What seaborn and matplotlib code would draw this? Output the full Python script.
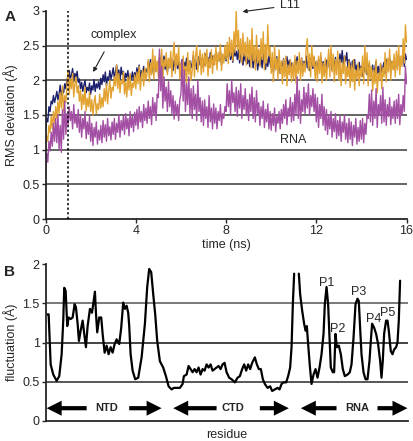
import numpy as np
import pandas as pd
import matplotlib
matplotlib.use("Agg")
import matplotlib.pyplot as plt
import seaborn as sns

# ---------------- data ----------------
time_ns = [round(i * 0.05, 2) for i in range(321)]

complex_rmsd = [
    1.28, 1.45, 1.40, 1.62, 1.55, 1.70, 1.66, 1.78, 1.68, 1.75,
    1.84, 1.72, 1.80, 1.93, 1.78, 1.86, 1.82, 1.95, 1.88, 2.02,
    1.96, 2.14, 2.02, 2.08, 2.17, 1.98, 2.10, 2.04, 2.13, 1.97,
    2.02, 1.88, 1.97, 1.84, 1.93, 2.00, 1.82, 1.90, 1.85, 1.96,
    1.80, 1.92, 1.86, 2.01, 1.84, 1.95, 1.89, 1.98, 1.87, 2.03,
    1.94, 2.08, 1.98, 2.12, 1.92, 2.05, 2.00, 2.14, 2.02, 2.09,
    2.18, 2.03, 2.12, 2.22, 2.06, 2.15, 2.00, 2.19, 2.08, 2.13,
    1.98, 2.10, 2.04, 2.14, 1.96, 2.07, 2.02, 2.12, 2.00, 2.11,
    2.05, 2.18, 2.08, 2.22, 2.03, 2.14, 2.10, 2.20, 2.06, 2.16,
    2.12, 2.26, 2.15, 2.30, 2.10, 2.22, 2.18, 2.28, 2.13, 2.25,
    2.20, 2.33, 2.14, 2.28, 2.22, 2.35, 2.16, 2.26, 2.12, 2.30,
    2.18, 2.32, 2.24, 2.14, 2.29, 2.20, 2.35, 2.17, 2.27, 2.12,
    2.22, 2.30, 2.15, 2.26, 2.19, 2.32, 2.14, 2.24, 2.28, 2.18,
    2.25, 2.36, 2.20, 2.30, 2.16, 2.28, 2.34, 2.22, 2.31, 2.19,
    2.30, 2.22, 2.38, 2.25, 2.33, 2.19, 2.40, 2.27, 2.35, 2.23,
    2.32, 2.41, 2.24, 2.36, 2.28, 2.42, 2.22, 2.35, 2.30, 2.38,
    2.28, 2.44, 2.33, 2.47, 2.30, 2.40, 2.26, 2.45, 2.35, 2.42,
    2.30, 2.44, 2.25, 2.38, 2.32, 2.22, 2.40, 2.28, 2.36, 2.24,
    2.35, 2.20, 2.32, 2.40, 2.18, 2.30, 2.26, 2.37, 2.15, 2.28,
    2.22, 2.34, 2.18, 2.38, 2.24, 2.16, 2.31, 2.20, 2.36, 2.25,
    2.18, 2.30, 2.12, 2.26, 2.22, 2.34, 2.15, 2.28, 2.10, 2.24,
    2.20, 2.31, 2.14, 2.27, 2.34, 2.18, 2.29, 2.13, 2.25, 2.20,
    2.16, 2.30, 2.22, 2.34, 2.14, 2.26, 2.20, 2.32, 2.12, 2.27,
    2.22, 2.35, 2.18, 2.28, 2.14, 2.31, 2.24, 2.17, 2.33, 2.20,
    2.26, 2.14, 2.30, 2.20, 2.34, 2.16, 2.27, 2.22, 2.12, 2.29,
    2.18, 2.32, 2.24, 2.36, 2.15, 2.28, 2.20, 2.33, 2.17, 2.26,
    2.22, 2.38, 2.26, 2.43, 2.20, 2.35, 2.28, 2.40, 2.18, 2.30,
    2.24, 2.12, 2.28, 2.16, 2.30, 2.10, 2.22, 2.08, 2.26, 2.14,
    2.20, 2.06, 2.25, 2.12, 2.28, 2.08, 2.18, 2.24, 2.05, 2.15,
    2.22, 2.04, 2.18, 2.27, 2.10, 2.20, 2.06, 2.24, 2.12, 2.19,
    2.26, 2.10, 2.30, 2.16, 2.22, 2.33, 2.12, 2.27, 2.18, 2.30,
    2.15, 2.28, 2.22, 2.35, 2.18, 2.31, 2.25, 2.45, 2.20, 2.38,
    2.30,
]

l11_rmsd = [
    1.02, 1.20, 1.12, 1.35, 1.25, 1.48, 1.30, 1.55, 1.38, 1.62,
    1.45, 1.70, 1.52, 1.82, 1.60, 1.92, 1.55, 1.78, 1.68, 1.95,
    2.15, 1.80, 2.02, 1.88, 2.10, 1.76, 1.95, 2.05, 1.82, 1.92,
    1.70, 1.86, 1.58, 1.80, 1.65, 1.90, 1.56, 1.74, 1.62, 1.83,
    1.55, 1.72, 1.50, 1.68, 1.78, 1.52, 1.66, 1.58, 1.80, 1.60,
    1.75, 1.62, 1.88, 1.70, 1.95, 1.66, 1.85, 2.00, 1.74, 1.90,
    1.85, 2.05, 1.92, 2.22, 1.88, 2.10, 1.82, 2.00, 1.95, 2.12,
    1.80, 1.98, 1.76, 2.05, 1.86, 2.10, 1.78, 1.96, 1.90, 2.08,
    1.88, 2.12, 1.95, 2.20, 1.86, 2.05, 2.15, 1.92, 2.18, 2.00,
    2.10, 2.30, 1.98, 2.25, 2.08, 2.45, 2.02, 2.35, 2.12, 2.28,
    2.05, 2.38, 2.15, 2.45, 2.02, 2.30, 2.20, 2.40, 2.08, 2.32,
    2.18, 2.42, 2.05, 2.35, 2.55, 2.10, 2.38, 2.22, 2.48, 2.02,
    2.25, 1.92, 2.35, 2.05, 2.20, 1.96, 2.40, 2.08, 2.28, 2.00,
    2.15, 2.42, 2.05, 2.35, 2.50, 2.12, 2.30, 2.44, 2.08, 2.38,
    2.12, 2.40, 2.20, 2.45, 2.06, 2.32, 2.18, 2.44, 2.10, 2.36,
    2.22, 2.48, 2.15, 2.40, 2.28, 2.52, 2.14, 2.38, 2.25, 2.50,
    2.30, 2.55, 2.24, 2.62, 2.35, 2.58, 2.28, 2.70, 2.40, 3.00,
    2.45, 2.72, 2.30, 2.60, 2.25, 2.68, 2.35, 2.55, 2.22, 2.62,
    2.30, 2.58, 2.18, 2.75, 2.28, 2.50, 2.15, 2.65, 2.25, 2.45,
    2.20, 2.60, 2.30, 2.70, 2.15, 2.52, 2.25, 2.80, 2.35, 2.48,
    2.10, 2.40, 1.98, 2.50, 2.15, 2.32, 2.02, 2.44, 2.10, 2.28,
    1.95, 2.30, 2.05, 2.35, 1.92, 2.22, 2.08, 2.30, 1.98, 2.25,
    2.02, 2.36, 1.96, 2.28, 2.10, 2.40, 2.00, 2.32, 2.06, 2.25,
    2.12, 2.45, 2.60, 2.15, 2.38, 2.05, 2.50, 2.20, 2.35, 2.02,
    2.28, 1.98, 2.35, 2.10, 2.40, 1.96, 2.25, 2.05, 2.32, 2.00,
    2.22, 2.45, 2.05, 2.50, 2.12, 2.38, 1.98, 2.30, 2.08, 2.42,
    2.00, 2.30, 1.92, 2.25, 2.10, 2.35, 1.95, 2.20, 2.05, 2.28,
    1.90, 2.22, 1.98, 2.30, 1.86, 2.15, 2.02, 2.25, 1.92, 2.18,
    2.05, 2.35, 1.95, 2.50, 2.10, 2.40, 1.92, 2.28, 2.02, 2.20,
    1.85, 2.15, 1.95, 2.30, 1.82, 2.10, 2.00, 2.25, 1.88, 2.18,
    2.05, 2.40, 1.98, 2.32, 2.12, 2.45, 2.00, 2.28, 2.15, 2.38,
    2.05, 2.42, 2.15, 2.50, 2.08, 2.35, 2.20, 2.60, 2.25, 2.80,
    2.55,
]

rna_rmsd = [
    0.60, 0.95, 0.82, 1.12, 0.98, 1.25, 1.05, 1.38, 1.12, 1.45,
    1.10, 1.50, 1.00, 1.35, 0.96, 1.58, 1.15, 1.70, 1.22, 1.52,
    1.35, 1.62, 1.42, 1.55, 1.30, 1.65, 1.38, 1.50, 1.32, 1.58,
    1.25, 1.50, 1.18, 1.45, 1.30, 1.55, 1.16, 1.40, 1.22, 1.48,
    1.12, 1.38, 1.06, 1.32, 1.18, 1.40, 1.08, 1.28, 1.14, 1.35,
    1.10, 1.42, 1.18, 1.36, 1.12, 1.45, 1.20, 1.33, 1.14, 1.40,
    1.22, 1.45, 1.15, 1.38, 1.25, 1.50, 1.18, 1.42, 1.28, 1.48,
    1.22, 1.52, 1.30, 1.45, 1.20, 1.55, 1.32, 1.48, 1.26, 1.54,
    1.35, 1.58, 1.30, 1.62, 1.40, 1.55, 1.32, 1.65, 1.42, 1.60,
    1.38, 1.70, 1.45, 1.62, 1.36, 1.75, 1.50, 1.68, 1.42, 1.80,
    1.75, 2.45, 1.85, 2.20, 1.60, 2.05, 1.70, 1.90, 1.55, 1.98,
    1.62, 1.85, 1.52, 1.78, 1.44, 1.70, 1.50, 1.65, 1.42, 1.72,
    1.80, 2.30, 1.70, 2.15, 1.55, 1.95, 1.65, 2.05, 1.52, 1.88,
    1.45, 1.92, 1.58, 1.80, 1.42, 2.00, 1.55, 1.75, 1.40, 1.70,
    1.35, 1.72, 1.45, 1.62, 1.32, 1.78, 1.40, 1.60, 1.30, 1.66,
    1.38, 1.60, 1.30, 1.55, 1.42, 1.65, 1.35, 1.52, 1.45, 1.62,
    1.55, 1.95, 1.62, 1.85, 1.50, 2.00, 1.68, 1.82, 1.55, 1.90,
    1.48, 1.85, 1.60, 1.95, 1.45, 1.78, 1.58, 1.88, 1.50, 1.72,
    1.42, 1.80, 1.55, 1.90, 1.45, 1.75, 1.40, 1.85, 1.52, 1.68,
    1.35, 1.62, 1.45, 1.70, 1.32, 1.58, 1.40, 1.66, 1.30, 1.55,
    1.28, 1.52, 1.35, 1.60, 1.26, 1.48, 1.38, 1.55, 1.30, 1.58,
    1.38, 1.65, 1.45, 1.72, 1.36, 1.60, 1.48, 1.75, 1.40, 1.68,
    1.42, 1.80, 1.50, 2.05, 1.45, 1.85, 1.38, 1.72, 1.55, 1.90,
    1.52, 1.82, 1.60, 1.95, 1.50, 1.78, 1.62, 1.88, 1.55, 1.80,
    1.40, 1.75, 1.32, 1.65, 1.45, 1.80, 1.35, 1.62, 1.28, 1.58,
    1.22, 1.50, 1.30, 1.55, 1.18, 1.45, 1.26, 1.52, 1.16, 1.42,
    1.20, 1.48, 1.12, 1.40, 1.25, 1.50, 1.15, 1.38, 1.10, 1.45,
    1.15, 1.40, 1.06, 1.35, 1.18, 1.45, 1.08, 1.32, 1.12, 1.42,
    1.15, 1.45, 1.10, 1.38, 1.22, 1.50, 1.45, 1.80, 1.40, 1.86,
    1.35, 1.70, 1.45, 1.88, 1.32, 1.65, 1.50, 1.78, 1.38, 1.90,
    1.40, 1.72, 1.35, 1.65, 1.48, 1.75, 1.36, 1.62, 1.45, 1.70,
    1.38, 1.72, 1.45, 1.80, 1.36, 1.65, 1.50, 1.78, 1.55, 2.20,
    1.95,
]

series_names = ["complex", "L11", "RNA"]
series_colors = ["#1c1f6b", "#e3a332", "#a34fa3"]

# panel B: residue position (index along the axis) and fluctuation
residue_seg1 = [
    1.3, 2.7, 4.7, 7.3, 10.7, 13.3, 15.7, 17.3, 18.3, 19.7, 21.3, 22.7, 24.7, 26.7,
    28.7, 30.0, 31.7, 33.0, 34.7, 36.7, 38.3, 40.0, 41.7, 44.0, 46.0, 47.3, 49.0,
    50.0, 51.3, 53.3, 55.3, 56.7, 58.7, 60.7, 62.7, 64.7, 66.7, 68.7, 70.7, 73.3,
    75.3, 77.3, 79.0, 80.7, 82.3, 83.3, 84.7, 86.7, 89.3, 92.3, 95.7, 99.0, 101.3,
    103.3, 105.3, 107.3, 109.3, 111.3, 114.0, 117.3, 120.0, 122.7, 125.7, 128.0,
    130.7, 134.0, 136.7, 138.0, 140.7, 142.7, 144.7, 146.7, 148.7, 150.7, 152.7,
    154.7, 156.7, 158.7, 160.7, 162.7, 164.7, 166.7, 168.7, 170.7, 172.7, 174.7,
    176.7, 178.7, 180.7, 183.3, 185.7, 189.0, 191.7, 194.0, 196.3, 198.3, 200.3,
    202.3, 204.3, 206.3, 209.0, 211.0, 213.0, 215.0, 217.0, 219.0, 221.7, 224.3,
    226.3, 229.0, 231.7, 233.7, 235.7, 237.7, 240.3, 242.3, 244.3, 245.7, 247.0,
    248.3,
]
fluct_seg1 = [
    1.36, 1.36, 0.72, 0.59, 0.51, 0.57, 0.85, 1.28, 1.70, 1.66, 1.21, 1.32, 1.30,
    1.32, 1.49, 1.45, 1.24, 1.02, 1.15, 1.28, 1.11, 0.94, 1.21, 1.43, 1.38, 1.49,
    1.65, 1.38, 1.13, 1.32, 1.32, 1.11, 0.87, 0.96, 0.85, 0.94, 0.87, 0.98, 1.04,
    0.98, 1.19, 1.51, 1.43, 1.47, 1.38, 1.21, 0.85, 0.64, 0.53, 0.55, 0.81, 1.24,
    1.71, 1.94, 1.90, 1.62, 1.36, 1.02, 0.76, 0.68, 0.57, 0.44, 0.40, 0.42, 0.42,
    0.42, 0.47, 0.57, 0.59, 0.70, 0.66, 0.62, 0.66, 0.62, 0.68, 0.59, 0.66, 0.64,
    0.72, 0.68, 0.72, 0.64, 0.66, 0.68, 0.70, 0.66, 0.72, 0.74, 0.62, 0.55, 0.53,
    0.49, 0.55, 0.57, 0.66, 0.72, 0.64, 0.72, 0.66, 0.74, 0.81, 0.72, 0.66, 0.66,
    0.53, 0.47, 0.42, 0.44, 0.38, 0.40, 0.42, 0.40, 0.47, 0.49, 0.49, 0.57, 0.68,
    0.94, 1.49, 1.88,
]
residue_seg2 = [
    253.0, 254.3, 256.3, 258.3, 259.7, 261.0, 262.3, 264.0, 265.7, 267.7, 269.7,
    271.7, 273.7, 275.7, 277.7, 279.0, 280.7, 282.3, 283.7, 285.0, 287.0, 288.3,
    289.7, 291.0, 293.0, 295.0, 297.0, 299.0, 301.7, 304.0, 305.7, 307.7, 309.7,
    311.7, 313.0, 314.3, 315.7, 317.7, 319.7, 321.7, 323.7, 325.0, 326.3, 328.3,
    330.3, 332.3, 334.3, 335.7, 337.0, 338.3, 340.3, 341.7, 343.0, 345.0, 346.7,
    348.3, 350.3, 351.7, 353.0, 354.3,
]
fluct_seg2 = [
    1.88, 1.62, 1.41, 1.24, 1.15, 1.21, 0.98, 0.70, 0.47, 0.59, 0.66, 0.55, 0.68,
    0.85, 1.11, 1.49, 1.71, 1.49, 1.06, 0.68, 0.62, 0.62, 1.11, 0.94, 0.96, 0.85,
    0.66, 0.57, 0.59, 0.62, 0.72, 1.06, 1.49, 1.56, 1.53, 1.19, 0.85, 0.62, 0.53,
    0.53, 0.77, 1.02, 1.24, 1.19, 1.11, 0.98, 0.77, 0.55, 0.77, 1.11, 1.28, 1.28,
    1.15, 0.89, 0.85, 0.91, 0.94, 1.00, 1.28, 1.79,
]

peak_labels = ["P1", "P2", "P3", "P4", "P5"]
peak_residue = [280.7, 292.3, 313.3, 328.0, 342.3]
peak_value = [1.76, 1.17, 1.65, 1.30, 1.38]

domain_names = ["NTD", "CTD", "RNA"]
domain_left = [0.7, 127.3, 255.0]
domain_left_end = [40.7, 170.7, 290.7]
domain_center = [60.7, 187.3, 311.3]
domain_right_start = [83.3, 214.0, 331.7]
domain_right = [115.7, 243.0, 361.7]

# ---------------- style ----------------
sns.set_theme(style="ticks")
plt.rcParams["font.family"] = ["Liberation Sans", "DejaVu Sans"]
plt.rcParams["axes.linewidth"] = 1.3

FS = 9

fig = plt.figure(figsize=(4.14, 4.41), dpi=100)
axA = fig.add_axes([0.110, 0.5034, 0.872, 0.4717])
axB = fig.add_axes([0.111, 0.046, 0.874, 0.3547])

grid_color = "#3a3a3a"

# ---------------- panel A ----------------
dfA = pd.DataFrame({
    "time": time_ns * 3,
    "rmsd": complex_rmsd + l11_rmsd + rna_rmsd,
    "series": [series_names[0]] * len(time_ns)
              + [series_names[1]] * len(time_ns)
              + [series_names[2]] * len(time_ns),
})
for y in [0.5, 1.0, 1.5, 2.0, 2.5]:
    axA.axhline(y, color=grid_color, lw=1.1, zorder=0)
sns.lineplot(data=dfA, x="time", y="rmsd", hue="series",
             palette=dict(zip(series_names, series_colors)),
             hue_order=series_names, estimator=None, sort=False,
             lw=1.0, legend=False, ax=axA, zorder=2)
axA.axvline(1.0, color="black", lw=1.1, ls=(0, (1.5, 1.5)), zorder=3)
axA.set_xlim(0, 16)
axA.set_ylim(0, 3)
axA.set_xticks([0, 4, 8, 12, 16])
axA.set_yticks([0, 0.5, 1, 1.5, 2, 2.5, 3])
axA.set_yticklabels(["0", "0.5", "1", "1.5", "2", "2.5", "3"])
axA.set_xlabel("time (ns)", fontsize=FS, labelpad=1)
axA.set_ylabel("RMS deviation (Å)", fontsize=FS, labelpad=3)
axA.tick_params(labelsize=FS, length=3, width=1, pad=1.5)
sns.despine(ax=axA)

axA.annotate("complex", xy=(2.11, 2.12), xytext=(3.0, 2.65),
             ha="center", va="center", fontsize=FS,
             arrowprops=dict(arrowstyle="-|>", color="#222", lw=0.8,
                             shrinkA=6, shrinkB=0, mutation_scale=6))
axA.annotate("L11", xy=(8.73, 2.99), xytext=(10.83, 3.08),
             ha="center", va="center", fontsize=FS, annotation_clip=False,
             arrowprops=dict(arrowstyle="-|>", color="#222", lw=0.8,
                             shrinkA=2, shrinkB=0, mutation_scale=6))
axA.text(10.97, 1.14, "RNA", ha="center", va="center", fontsize=FS)
fig.text(0.024, 0.962, "A", fontsize=11, fontweight="bold", ha="center", va="center")

# ---------------- panel B ----------------
dfB = pd.DataFrame({
    "residue": residue_seg1 + residue_seg2,
    "fluct": fluct_seg1 + fluct_seg2,
    "seg": [0] * len(residue_seg1) + [1] * len(residue_seg2),
})
for y, c in [(0.5, "#2a2a2a"), (1.0, "#111111"), (1.5, "#555555")]:
    axB.axhline(y, color=c, lw=1.1, zorder=0)
sns.lineplot(data=dfB, x="residue", y="fluct", units="seg", estimator=None,
             sort=False, color="black", lw=1.6, ax=axB, zorder=2)
axB.set_xlim(0, 362)
axB.set_ylim(0, 2)
axB.set_xticks([])
axB.set_yticks([0, 0.5, 1, 1.5, 2])
axB.set_yticklabels(["0", "0.5", "1", "1.5", "2"])
axB.set_xlabel("residue", fontsize=FS, labelpad=6)
axB.set_ylabel("fluctuation (Å)", fontsize=FS, labelpad=3)
axB.tick_params(labelsize=FS, length=3, width=1, pad=1.5)
sns.despine(ax=axB)

for lab, xr, yv in zip(peak_labels, peak_residue, peak_value):
    axB.text(xr, yv, lab, ha="center", va="center", fontsize=FS)

arrow_y = 0.16
astyle = "simple,head_length=1.0,head_width=1.0,tail_width=0.28"
for name, l0, l1, cx, r0, r1 in zip(domain_names, domain_left, domain_left_end,
                                     domain_center, domain_right_start, domain_right):
    axB.annotate("", xy=(l0, arrow_y), xytext=(l1, arrow_y),
                 arrowprops=dict(arrowstyle=astyle, color="black", lw=0,
                                 shrinkA=0, shrinkB=0, mutation_scale=10.8))
    axB.annotate("", xy=(r1, arrow_y), xytext=(r0, arrow_y),
                 arrowprops=dict(arrowstyle=astyle, color="black", lw=0,
                                 shrinkA=0, shrinkB=0, mutation_scale=10.8))
    axB.text(cx, arrow_y, name, ha="center", va="center", fontsize=8,
             fontweight="bold")
fig.text(0.024, 0.384, "B", fontsize=11, fontweight="bold", ha="center", va="center")

fig.savefig("out.png", dpi=100)
